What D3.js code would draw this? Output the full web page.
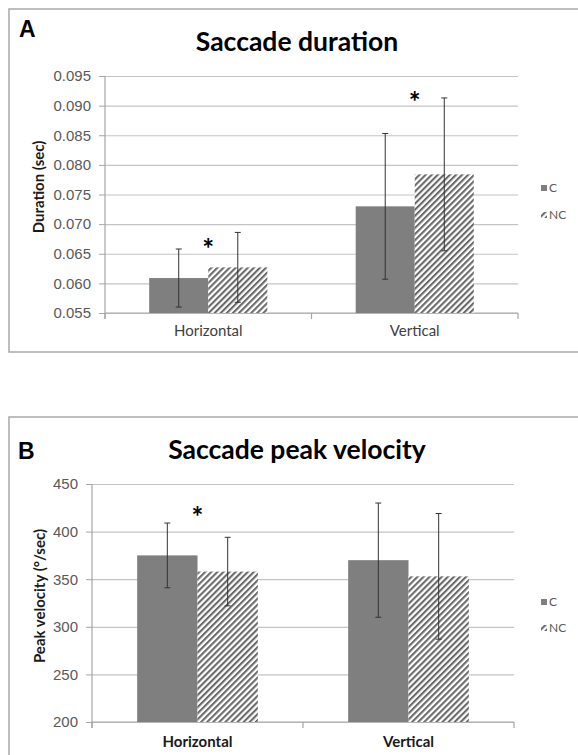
<!DOCTYPE html>
<html>
<head>
<meta charset="utf-8">
<script src="https://cdn.jsdelivr.net/npm/d3@7"></script>
<style>
  body { margin: 0; background: #fff; }
  svg { display: block; font-family: Lato, 'Open Sans', sans-serif; }
  .panel-box { fill: none; stroke: #a9a9a9; stroke-width: 1.5; }
  .panel-letter { font-family: 'Liberation Sans', Arial, sans-serif; font-weight: bold; font-size: 23px; fill: #000; }
  .panel-title { font-weight: bold; font-size: 26.5px; fill: #000; }
  .grid line { stroke: #c4c4c4; stroke-width: 1.2; }
  .grid .domain { display: none; }
  .y-axis text { font-size: 15px; fill: #595959; }
  .y-axis line { stroke: #a6a6a6; }
  .y-axis .domain { display: none; }
  .axis-line { stroke: #a6a6a6; stroke-width: 1.2; }
  .y-title { font-weight: bold; font-size: 15px; fill: #1a1a1a; }
  .x-label { font-size: 15px; fill: #404040; }
  .x-label.bold { font-weight: bold; fill: #1a1a1a; }
  .err line { stroke: #333; stroke-width: 1; }
  .star { font-weight: bold; font-size: 28px; fill: #000; }
  .legend text { font-size: 12px; fill: #595959; }
</style>
</head>
<body>
<svg id="chart" width="578" height="755"></svg>
<script>
const CATEGORIES = ['Horizontal', 'Vertical'];
const SERIES = ['C', 'NC'];

// A - saccade duration (sec)
const durationC = [0.0609, 0.0730];
const durationNC = [0.0627, 0.0784];
const durationErrC = [0.0049, 0.0123];
const durationErrNC = [0.0059, 0.0129];
const durationTicks = [0.055, 0.060, 0.065, 0.070, 0.075, 0.080, 0.085, 0.090, 0.095];
const durationStars = [0.0670, 0.0918]; // height of the * per category

// B - saccade peak velocity (deg/sec)
const velocityC = [375, 370];
const velocityNC = [358, 353];
const velocityErrC = [34, 60];
const velocityErrNC = [36, 66];
const velocityTicks = [200, 250, 300, 350, 400, 450];
const velocityStars = [423, null];

const FILLS = { C: '#7f7f7f', NC: 'url(#hatch)' };

function buildRows(meanC, meanNC, errC, errNC, stars) {
  return CATEGORIES.map((cat, i) => ({
    cat,
    star: stars[i],
    values: [
      { series: 'C', mean: meanC[i], err: errC[i] },
      { series: 'NC', mean: meanNC[i], err: errNC[i] }
    ]
  }));
}

class Panel {
  constructor(svg, rows, ticks, options) {
    this.svg = svg;
    this.rows = rows;
    this.ticks = ticks;
    this.options = options;
    this.config = this.getConfig();
  }

  getConfig() {
    const plot = this.options.plot;
    const y = d3.scaleLinear()
      .domain(d3.extent(this.ticks))
      .range([plot.bottom, plot.top]);

    const x0 = d3.scaleBand()
      .domain(CATEGORIES)
      .range([plot.left, plot.right])
      .paddingInner(0.428)
      .paddingOuter(0.214);

    const x1 = d3.scaleBand()
      .domain(SERIES)
      .range([0, x0.bandwidth()]);

    return { plot, x0, x1, y };
  }

  draw() {
    this.group = this.svg.append('g').classed('panel', true);
    this.drawFrame();
    this.drawAxes();
    this.drawBars();
    this.drawErrors();
    this.drawStars();
    this.drawLegend();
  }

  drawFrame() {
    const o = this.options;
    this.group.append('rect')
      .attr('class', 'panel-box')
      .attr('x', o.box.x)
      .attr('y', o.box.y)
      .attr('width', o.box.w)
      .attr('height', o.box.h);

    this.group.append('text')
      .attr('class', 'panel-letter')
      .attr('x', o.letter.x)
      .attr('y', o.letter.y)
      .text(o.letterText);

    this.group.append('text')
      .attr('class', 'panel-title')
      .attr('x', o.title.x)
      .attr('y', o.title.y)
      .attr('text-anchor', 'middle')
      .text(o.titleText);
  }

  drawAxes() {
    const { plot, x0, y } = this.config;
    const o = this.options;

    this.group.append('g')
      .attr('class', 'grid')
      .attr('transform', `translate(${plot.left},0)`)
      .call(d3.axisLeft(y).tickValues(this.ticks).tickSize(-(plot.right - plot.left)).tickFormat(''));

    this.group.append('g')
      .attr('class', 'y-axis')
      .attr('transform', `translate(${plot.left},0)`)
      .call(d3.axisLeft(y).tickValues(this.ticks).tickSize(6).tickPadding(8).tickFormat(o.tickFormat));

    // y axis line runs a little past the x axis like in excel
    this.group.append('line')
      .attr('class', 'axis-line')
      .attr('x1', plot.left).attr('x2', plot.left)
      .attr('y1', plot.top).attr('y2', plot.bottom + 6);

    this.group.append('line')
      .attr('class', 'axis-line')
      .attr('x1', plot.left).attr('x2', plot.right)
      .attr('y1', plot.bottom).attr('y2', plot.bottom);

    // category boundary ticks
    const bounds = d3.range(CATEGORIES.length + 1).map(i => x0.range()[0] + i * x0.step());
    this.group.selectAll('.cat-tick')
      .data(bounds)
      .enter()
      .append('line')
      .attr('class', 'axis-line cat-tick')
      .attr('x1', d => d).attr('x2', d => d)
      .attr('y1', plot.bottom).attr('y2', plot.bottom + 6);

    this.group.selectAll('.x-label')
      .data(CATEGORIES)
      .enter()
      .append('text')
      .attr('class', 'x-label' + (o.boldCategories ? ' bold' : ''))
      .attr('x', d => x0(d) + x0.bandwidth() / 2)
      .attr('y', o.xLabelY)
      .attr('text-anchor', 'middle')
      .text(d => d);

    this.group.append('text')
      .attr('class', 'y-title')
      .attr('transform', `translate(${o.yTitle.x},${o.yTitle.y}) rotate(-90)`)
      .attr('text-anchor', 'middle')
      .attr('dy', '0.35em')
      .text(o.yTitleText);
  }

  drawBars() {
    const { x0, x1, y, plot } = this.config;

    this.group.append('g').selectAll('.cat')
      .data(this.rows)
      .enter()
      .append('g')
      .attr('class', 'cat')
      .attr('transform', d => `translate(${x0(d.cat)},0)`)
      .selectAll('rect')
      .data(d => d.values)
      .enter()
      .append('rect')
      .attr('x', d => x1(d.series))
      .attr('y', d => y(d.mean))
      .attr('width', x1.bandwidth())
      .attr('height', d => plot.bottom - y(d.mean))
      .attr('fill', d => FILLS[d.series]);
  }

  drawErrors() {
    const { x0, x1, y } = this.config;
    const cap = 3;

    const items = this.rows.flatMap(r => r.values.map(v => ({
      cx: x0(r.cat) + x1(v.series) + x1.bandwidth() / 2,
      lo: y(v.mean - v.err),
      hi: y(v.mean + v.err)
    })));

    const err = this.group.append('g').attr('class', 'err')
      .selectAll('g')
      .data(items)
      .enter()
      .append('g');

    err.append('line')
      .attr('x1', d => d.cx).attr('x2', d => d.cx)
      .attr('y1', d => d.lo).attr('y2', d => d.hi);
    err.append('line')
      .attr('x1', d => d.cx - cap).attr('x2', d => d.cx + cap)
      .attr('y1', d => d.lo).attr('y2', d => d.lo);
    err.append('line')
      .attr('x1', d => d.cx - cap).attr('x2', d => d.cx + cap)
      .attr('y1', d => d.hi).attr('y2', d => d.hi);
  }

  drawStars() {
    const { x0, y } = this.config;
    this.group.selectAll('.star')
      .data(this.rows.filter(r => r.star != null))
      .enter()
      .append('text')
      .attr('class', 'star')
      .attr('x', d => x0(d.cat) + x0.bandwidth() / 2)
      .attr('y', d => y(d.star))
      .attr('dy', '0.6em')
      .attr('text-anchor', 'middle')
      .text('*');
  }

  drawLegend() {
    const lg = this.options.legend;
    const items = this.group.append('g')
      .attr('class', 'legend')
      .attr('transform', `translate(${lg.x},${lg.y})`)
      .selectAll('g')
      .data(SERIES)
      .enter()
      .append('g')
      .attr('transform', (d, i) => `translate(0,${i * lg.step})`);

    items.append('rect')
      .attr('x', 0).attr('y', -3)
      .attr('width', 6).attr('height', 6)
      .attr('fill', d => FILLS[d]);

    items.append('text')
      .attr('x', 8)
      .attr('dy', '0.35em')
      .text(d => d);
  }
}

const svg = d3.select('#chart');

// diagonal hatch for the NC bars
const HATCH = 4.3;
svg.append('defs')
  .append('pattern')
  .attr('id', 'hatch')
  .attr('patternUnits', 'userSpaceOnUse')
  .attr('width', HATCH)
  .attr('height', HATCH)
  .attr('patternTransform', 'rotate(45)')
  .call(p => {
    p.append('rect').attr('width', HATCH).attr('height', HATCH).attr('fill', '#fff');
    p.append('rect').attr('width', 2.1).attr('height', HATCH).attr('fill', '#6a6a6a');
  });

new Panel(svg, buildRows(durationC, durationNC, durationErrC, durationErrNC, durationStars), durationTicks, {
  box: { x: 9, y: 9, w: 600, h: 343 },
  plot: { left: 105, right: 518, top: 76, bottom: 313 },
  letterText: 'A',
  letter: { x: 19, y: 37 },
  titleText: 'Saccade duration',
  title: { x: 297, y: 51 },
  yTitleText: 'Duration (sec)',
  yTitle: { x: 39, y: 187 },
  xLabelY: 336,
  boldCategories: false,
  tickFormat: d3.format('.3f'),
  legend: { x: 541, y: 188, step: 27 }
}).draw();

new Panel(svg, buildRows(velocityC, velocityNC, velocityErrC, velocityErrNC, velocityStars), velocityTicks, {
  box: { x: 9, y: 417, w: 600, h: 400 },
  plot: { left: 92, right: 514, top: 484, bottom: 722 },
  letterText: 'B',
  letter: { x: 18, y: 459 },
  titleText: 'Saccade peak velocity',
  title: { x: 297, y: 459 },
  yTitleText: 'Peak velocity (°/sec)',
  yTitle: { x: 40, y: 596 },
  xLabelY: 747,
  boldCategories: true,
  tickFormat: d3.format('d'),
  legend: { x: 541, y: 602, step: 26 }
}).draw();
</script>
</body>
</html>
